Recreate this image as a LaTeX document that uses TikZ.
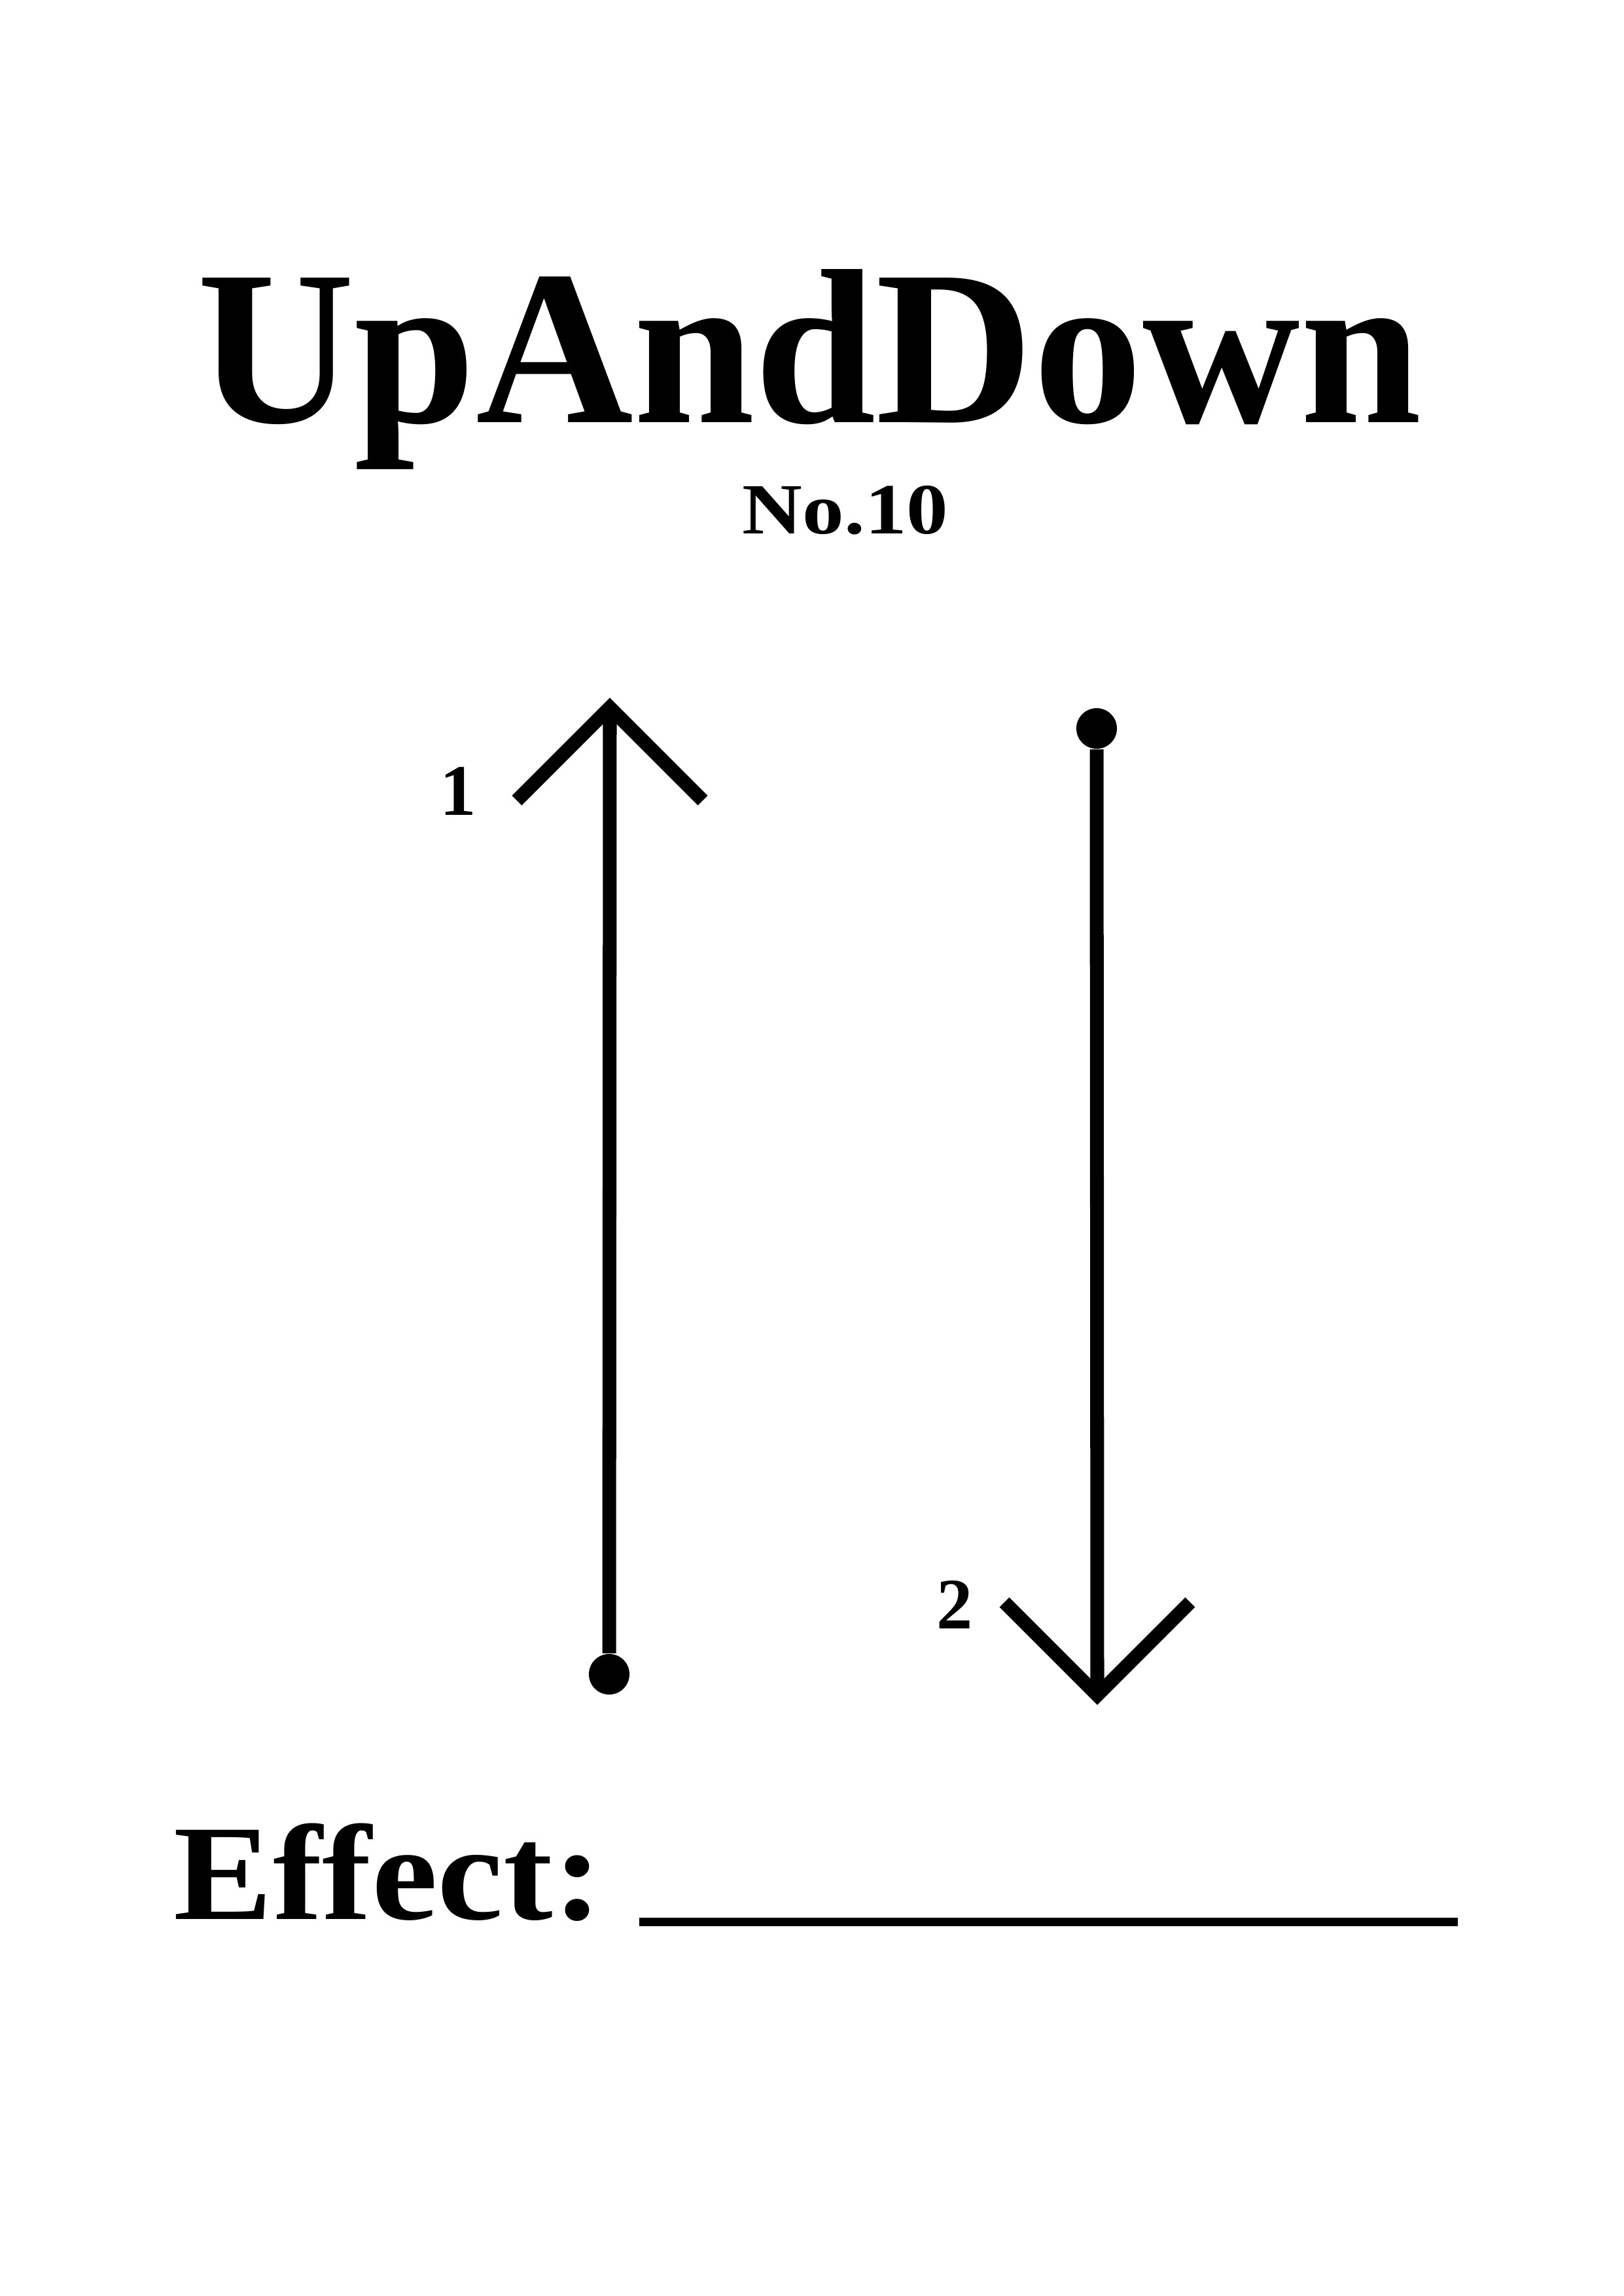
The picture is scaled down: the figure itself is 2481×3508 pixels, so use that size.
\documentclass[tikz,border=0pt]{standalone}
\usepackage{fontspec}
\setmainfont{Liberation Serif}
\begin{document}
\begin{tikzpicture}[x=0.084643mm,y=-0.084643mm,
  gtext/.style={inner sep=0pt, font=\bfseries},
  shaft/.style={line width=1.78mm},
  chev/.style={line width=1.78mm, line join=miter, line cap=butt},
  dotnode/.style={circle, fill=black, draw=none, inner sep=0pt, minimum size=5.25mm},
  uline/.style={line width=1.1mm}]
\useasboundingbox (0,0) rectangle (2481,3508);
% title
\node[gtext, anchor=base] (title) at (1237,645) {\resizebox{158.4mm}{19.8mm}{UpAndDown}};
\node[gtext, anchor=base] (no) at (1292,815) {\resizebox{26.6mm}{6.2mm}{No.10}};
% up arrow
\node[dotnode] (d1) at (931,2558) {};
\coordinate (t1) at (932,1081);
\coordinate (t1l) at (790,1223);
\coordinate (t1r) at (1074,1223);
\draw[shaft] (d1) -- (t1);
\draw[chev] (t1l) -- (t1) -- (t1r);
\node[gtext, anchor=base] (l1) at (700,1245) {\resizebox{!}{6.2mm}{1}};
% down arrow
\node[dotnode] (d2) at (1676,1113) {};
\coordinate (t2) at (1677,2590);
\coordinate (t2l) at (1535,2448);
\coordinate (t2r) at (1819,2448);
\draw[shaft] (d2) -- (t2);
\draw[chev] (t2l) -- (t2) -- (t2r);
\node[gtext, anchor=base] (l2) at (1459,2488) {\resizebox{!}{6.2mm}{2}};
% effect
\node[gtext, anchor=base west] (eff) at (265,2932) {\resizebox{55.4mm}{12.4mm}{Effect:}};
\coordinate (u1) at (977,2936);
\coordinate (u2) at (2228,2936);
\draw[uline] (u1) -- (u2);
\end{tikzpicture}
\end{document}
